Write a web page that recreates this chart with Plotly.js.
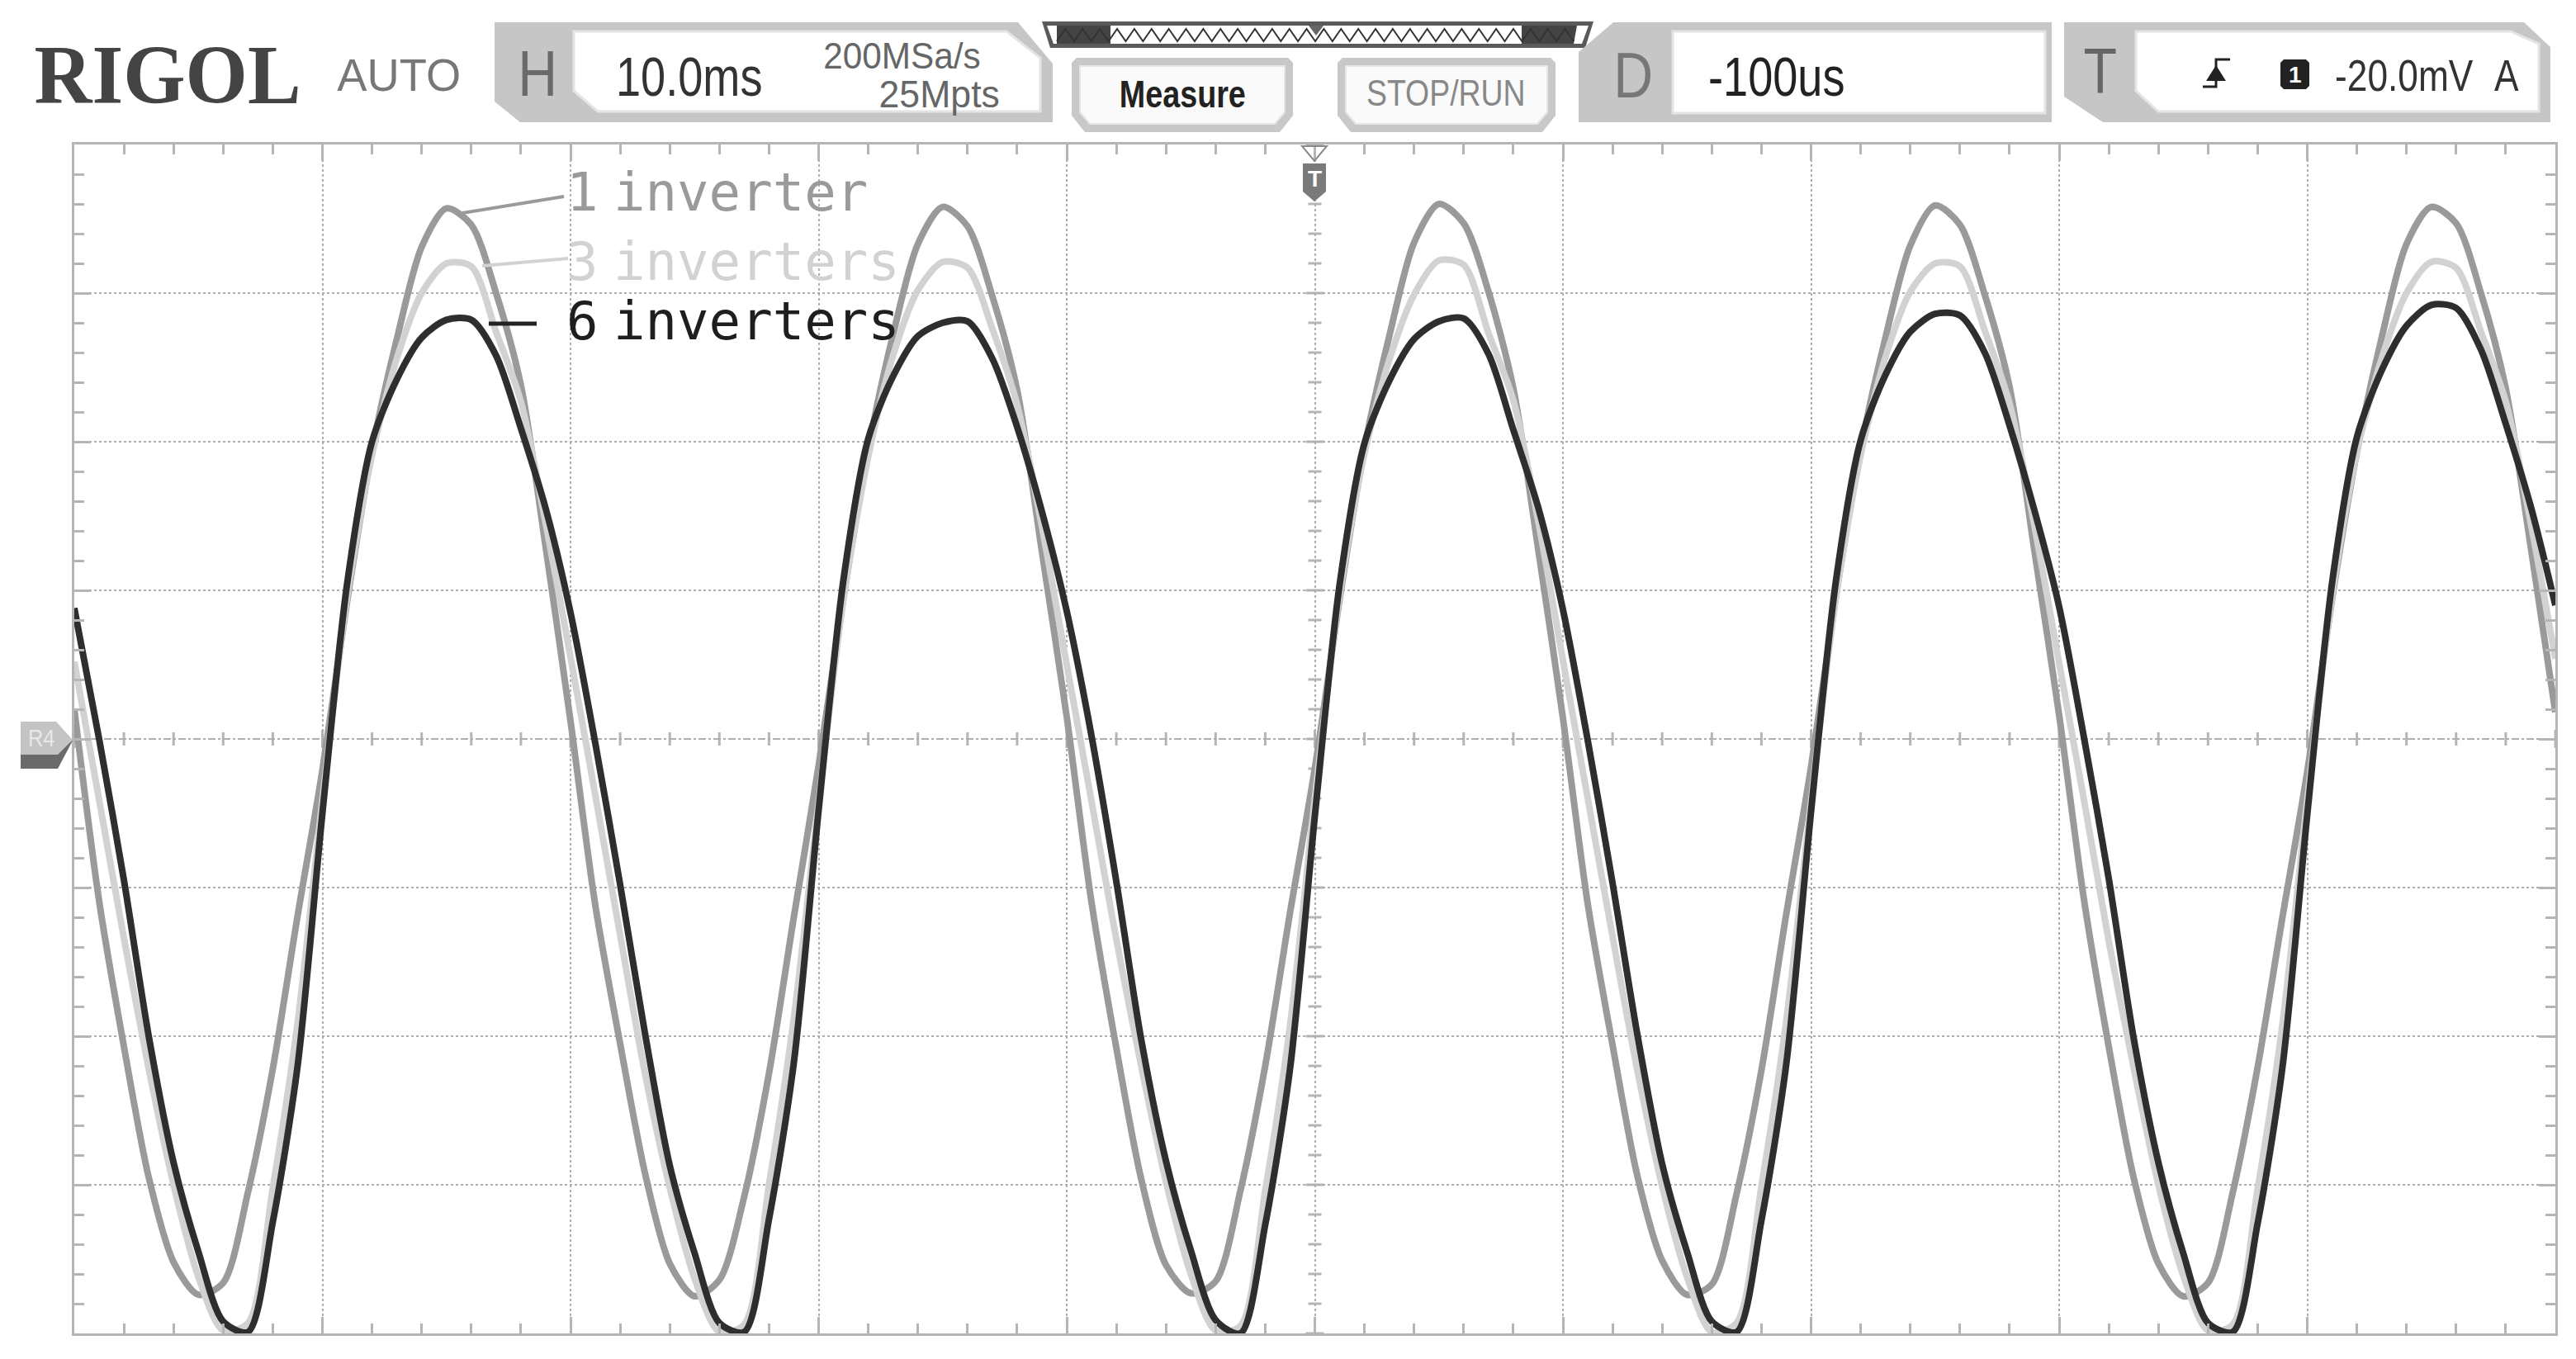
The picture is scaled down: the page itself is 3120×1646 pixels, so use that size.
<!DOCTYPE html>
<html><head><meta charset="utf-8">
<script src="https://cdn.plot.ly/plotly-3.0.1.min.js"></script>
<style>html,body{margin:0;padding:0;background:#fff;}#chart{width:3120px;height:1646px;}</style>
</head><body><div id="chart"></div>
<script>
// ---- data (time in ms, amplitude in screen divisions) ----
const timeMs = [0,1,2,3,4,5,6,7,8,9,10,11,12,13,14,15,16,17,18,19,
  20,21,22,23,24,25,26,27,28,29,30,31,32,33,34,35,36,37,38,39,
  40,41,42,43,44,45,46,47,48,49,50,51,52,53,54,55,56,57,58,59,
  60,61,62,63,64,65,66,67,68,69,70,71,72,73,74,75,76,77,78,79,
  80,81,82,83,84,85,86,87,88,89,90,91,92,93,94,95,96,97,98,99,100];
const oneInverter = [
  0.20,-1.09,-2.07,-2.95,-3.52,-3.74,-3.66,-3.05,-2.22,-1.19,-0.21,0.93,1.94,2.69,3.31,3.57,3.46,3.00,2.38,1.29,
  0.12,-1.12,-2.05,-2.92,-3.53,-3.75,-3.64,-3.08,-2.25,-1.20,-0.18,0.95,1.95,2.72,3.33,3.58,3.45,2.98,2.35,1.26,
  0.15,-1.10,-2.08,-2.96,-3.54,-3.73,-3.65,-3.04,-2.20,-1.17,-0.20,0.94,1.96,2.71,3.34,3.60,3.47,3.01,2.36,1.28,
  0.14,-1.11,-2.06,-2.94,-3.51,-3.74,-3.67,-3.06,-2.23,-1.18,-0.19,0.96,1.95,2.70,3.32,3.59,3.46,2.99,2.37,1.27,
  0.16,-1.08,-2.07,-2.95,-3.53,-3.75,-3.66,-3.05,-2.21,-1.20,-0.22,0.94,1.93,2.70,3.33,3.58,3.47,3.00,2.36,1.30,
  0.18];
const threeInverters = [
  0.52,-0.41,-1.34,-2.22,-3.00,-3.62,-3.98,-3.93,-3.02,-1.91,-0.41,0.96,1.91,2.56,3.00,3.20,3.18,2.74,2.27,1.45,
  0.55,-0.38,-1.32,-2.25,-3.02,-3.63,-3.99,-3.94,-3.00,-1.88,-0.43,0.94,1.90,2.58,3.02,3.21,3.17,2.76,2.25,1.43,
  0.50,-0.42,-1.35,-2.20,-2.98,-3.60,-3.98,-3.95,-3.04,-1.93,-0.40,0.97,1.92,2.55,2.99,3.22,3.19,2.73,2.28,1.47,
  0.53,-0.40,-1.33,-2.23,-3.01,-3.62,-3.99,-3.93,-3.01,-1.90,-0.42,0.95,1.91,2.57,3.01,3.20,3.18,2.75,2.26,1.44,
  0.51,-0.41,-1.36,-2.21,-3.00,-3.61,-3.98,-3.94,-3.03,-1.92,-0.41,0.96,1.93,2.56,3.00,3.21,3.17,2.74,2.27,1.46,
  0.54];
const sixInverters = [
  0.88,0.00,-0.95,-2.00,-2.85,-3.45,-3.92,-3.99,-3.25,-2.20,-0.50,1.05,2.00,2.42,2.70,2.82,2.82,2.58,2.09,1.55,
  0.85,-0.03,-0.98,-1.98,-2.87,-3.46,-3.93,-3.99,-3.23,-2.18,-0.48,1.07,2.02,2.44,2.71,2.80,2.81,2.56,2.10,1.53,
  0.86,0.02,-0.96,-2.02,-2.84,-3.44,-3.91,-4.00,-3.27,-2.22,-0.52,1.04,1.99,2.41,2.69,2.81,2.83,2.59,2.08,1.56,
  0.87,-0.01,-0.97,-1.99,-2.86,-3.45,-3.92,-3.99,-3.24,-2.19,-0.49,1.06,2.01,2.45,2.74,2.86,2.85,2.60,2.11,1.54,
  0.89,0.01,-0.94,-2.01,-2.85,-3.46,-3.93,-3.99,-3.26,-2.21,-0.51,1.05,2.03,2.48,2.78,2.92,2.90,2.62,2.12,1.57,
  0.90];
const seriesDigits = ['1','3','6'];
const seriesWords = ['inverter','inverters','inverters'];
const seriesColors = ['#9a9a9a','#d2d2d2','#2e2e2e'];
const headerTexts = {logo:'RIGOL', mode:'AUTO', h:'H', timebase:'10.0ms', rate:'200MSa/s', depth:'25Mpts',
  measure:'Measure', stoprun:'STOP/RUN', d:'D', delay:'-100us', t:'T', chan:'1', level:'-20.0mV', sweep:'A', ref:'R4'};

// ---- geometry helpers (page pixels -> paper coords) ----
const L=90, R=3095, T=175, B=1615, W=R-L, H=B-T;
const px = x => (x-L)/W, py = y => (B-y)/H;
const poly = pts => 'M' + pts.map(p => px(p[0]).toFixed(5)+','+py(p[1]).toFixed(5)).join(' L') + ' Z';
const polyOpen = pts => 'M' + pts.map(p => px(p[0]).toFixed(5)+','+py(p[1]).toFixed(5)).join(' L');
const shp = (path, fill, line, lw) => ({type:'path', xref:'paper', yref:'paper', path:path,
  fillcolor: fill || 'rgba(0,0,0,0)', line:{color: line || 'rgba(0,0,0,0)', width: lw || 0}, layer:'above'});
const SANS = '"Liberation Sans", Arial, sans-serif';
const narrowList = [];   // [annotation index, xanchor, scale]
const annotations = [];
function ann(text, x, y, size, color, opts) {
  opts = opts || {};
  const a = {text:text, x:px(x), y:py(y), xref:'paper', yref:'paper', showarrow:false,
    xanchor:opts.xanchor||'center', yanchor:'middle',
    font:{size:size, color:color, family:opts.family||SANS, weight:opts.weight||'normal'}};
  if (opts.narrow) narrowList.push([annotations.length, a.xanchor, opts.narrow]);
  annotations.push(a);
}

const traces = [oneInverter, threeInverters, sixInverters].map((v,i) => ({
  x: timeMs, y: v, type:'scatter', mode:'lines', name: seriesDigits[i]+' '+seriesWords[i],
  line:{color: seriesColors[i], width:8, shape:'spline', smoothing:0.8}, hoverinfo:'skip'
}));

const shapes = [];
// center cross ticks
for (let k=0; k<=40; k++) {
  const yv = -4 + k*0.2;
  const big = (k%5===0);
  shapes.push({type:'line', xref:'x', yref:'y', xsizemode:'pixel', xanchor:50, x0: big?-11:-8, x1: big?11:8,
    y0:yv, y1:yv, line:{color:'#b5b5b5', width:3}, layer:'below'});
}
for (let k=0; k<=50; k++) {
  const xv = k*2;
  const big = (k%5===0);
  shapes.push({type:'line', xref:'x', yref:'y', ysizemode:'pixel', yanchor:0, y0: big?-11:-8, y1: big?11:8,
    x0:xv, x1:xv, line:{color:'#b5b5b5', width:3}, layer:'below'});
}
shapes.push({type:'line', xref:'x', yref:'y', x0:0, x1:100, y0:0, y1:0, line:{color:'#b0b0b0', width:2, dash:'dash'}, layer:'below'});

// header: H panel
shapes.push(shp(poly([[599,27],[1233,27],[1275,77],[1275,148],[630,148],[599,123]]), '#c6c6c6'));
shapes.push(shp(poly([[695,38],[1219,38],[1260,70],[1260,135],[724,135],[695,110]]), '#ffffff', '#e4e4e4', 3));
// memory bar
shapes.push(shp(poly([[1262,26],[1930,26],[1920,58],[1272,58]]), '#5a5a5a'));
shapes.push(shp(poly([[1268,31],[1924,31],[1916,53],[1276,53]]), '#ffffff'));
shapes.push(shp(poly([[1280,31],[1345,31],[1345,53],[1280,53]]), '#444444'));
shapes.push(shp(poly([[1843,31],[1910,31],[1906,53],[1843,53]]), '#444444'));
{
  const zz = []; const n = 30; const x0 = 1280, x1 = 1906;
  for (let i=0; i<=2*n; i++) zz.push([x0 + (x1-x0)*i/(2*n), (i%2===0) ? 50 : 35]);
  shapes.push(shp(polyOpen(zz), null, '#333333', 2));
}
shapes.push(shp(poly([[1585,31],[1603,31],[1594,43]]), '#666666'));
// buttons
[[1298,1566],[1620,1884]].forEach(b => {
  const a=b[0], c=b[1];
  shapes.push(shp(poly([[a,76],[a+6,70],[c-6,70],[c,76],[c,140],[c-16,160],[a+16,160],[a,140]]), '#c8c8c8'));
  shapes.push(shp(poly([[a+10,80],[c-10,80],[c-10,136],[c-22,150],[a+22,150],[a+10,136]]), '#fafafa', '#e6e6e6', 2));
});
// D panel
shapes.push(shp(poly([[1954,27],[2485,27],[2485,148],[1912,148],[1912,63]]), '#c6c6c6'));
shapes.push(shp(poly([[2026,38],[2477,38],[2477,137],[2026,137]]), '#ffffff', '#e4e4e4', 3));
// T panel
shapes.push(shp(poly([[2500,27],[3057,27],[3089,57],[3089,148],[2547,148],[2500,117]]), '#c6c6c6'));
shapes.push(shp(poly([[2587,38],[3041,38],[3075,53],[3075,135],[2614,135],[2587,110]]), '#ffffff', '#e4e4e4', 3));
// trigger edge icon
shapes.push(shp(polyOpen([[2668,105],[2684,105],[2684,72],[2701,72]]), null, '#222222', 3));
shapes.push(shp(poly([[2672,98],[2696,98],[2684,79]]), '#222222'));
// channel badge
shapes.push(shp(poly([[2766,72],[2793,72],[2797,76],[2797,104],[2793,108],[2766,108],[2762,104],[2762,76]]), '#222222'));
// trigger position marker at top
shapes.push(shp(poly([[1577,177],[1607,177],[1592,195]]), null, '#8a8a8a', 2));
shapes.push(shp(poly([[1578,198],[1606,198],[1606,232],[1592,244],[1578,232]]), '#7a7a7a'));
// R4 reference marker
shapes.push(shp(poly([[25,905],[70,905],[88,897],[70,931],[25,931]]), '#6a6a6a'));
shapes.push(shp(poly([[25,874],[68,874],[88,896],[70,914],[25,914]]), '#c4c4c4'));
// legend pointer lines
shapes.push(shp(polyOpen([[560,258],[683,238]]), null, seriesColors[0], 4));
shapes.push(shp(polyOpen([[584,322],[688,313]]), null, seriesColors[1], 4));
shapes.push(shp(polyOpen([[592,392],[650,392]]), null, '#222222', 5));

const MONO = '"DejaVu Sans Mono", monospace';
ann(headerTexts.logo, 203, 90, 102, '#444444', {family:'"Liberation Serif", serif', weight:'bold', narrow:0.95});
ann(headerTexts.mode, 483, 90, 56, '#777777', {narrow:0.97});
ann(headerTexts.h, 651, 89, 78, '#6a6a6a', {narrow:0.85});
ann(headerTexts.timebase, 744, 93, 66, '#333333', {xanchor:'left', narrow:0.82});
ann(headerTexts.rate, 1190, 68, 45, '#666666', {xanchor:'right', narrow:0.94});
ann(headerTexts.depth, 1213, 114, 46, '#666666', {xanchor:'right', narrow:0.97});
ann(headerTexts.measure, 1432, 114, 46, '#222222', {weight:'bold', narrow:0.82});
ann(headerTexts.stoprun, 1751, 112, 44, '#888888', {narrow:0.85});
ann(headerTexts.d, 1978, 91, 78, '#777777', {narrow:0.85});
ann(headerTexts.delay, 2067, 93, 66, '#222222', {xanchor:'left', narrow:0.82});
ann(headerTexts.t, 2544, 86, 78, '#666666', {narrow:0.85});
ann(headerTexts.chan, 2780, 91, 28, '#ffffff', {weight:'bold'});
ann(headerTexts.level, 2826, 91, 54, '#333333', {xanchor:'left', narrow:0.82});
ann(headerTexts.sweep, 3019, 91, 54, '#333333', {xanchor:'left', narrow:0.82});
ann('T', 1592, 216, 28, '#ffffff', {weight:'bold'});
ann(headerTexts.ref, 50, 893, 30, '#e8e8e8', {narrow:0.85});
for (let i=0; i<3; i++) {
  const yc = [233, 317, 389][i];
  const col = i===2 ? '#1e1e1e' : seriesColors[i];
  ann(seriesDigits[i], 684, yc, 64, col, {family:MONO, xanchor:'left'});
  ann(seriesWords[i], 741, yc, 64, col, {family:MONO, xanchor:'left'});
}

const axisCommon = {showticklabels:false, zeroline:false, showline:true, mirror:'ticks', linecolor:'#b5b5b5', linewidth:3,
  ticks:'inside', ticklen:20, tickwidth:3, tickcolor:'#b5b5b5', showgrid:true, gridcolor:'#adadad', gridwidth:2, griddash:'dot', fixedrange:true};
const layout = {
  width:3120, height:1646, margin:{l:L, r:3120-R, t:T, b:1646-B, pad:0},
  paper_bgcolor:'#ffffff', plot_bgcolor:'#ffffff', showlegend:false,
  xaxis: Object.assign({}, axisCommon, {range:[0,100], dtick:10, tick0:0,
    minor:{dtick:2, ticks:'inside', ticklen:12, tickwidth:3, tickcolor:'#b5b5b5', showgrid:false}}),
  yaxis: Object.assign({}, axisCommon, {range:[-4,4], dtick:1, tick0:0,
    minor:{dtick:0.2, ticks:'inside', ticklen:12, tickwidth:3, tickcolor:'#b5b5b5', showgrid:false}}),
  shapes: shapes, annotations: annotations
};
function condense(gd) {
  narrowList.forEach(([idx, anchor, s]) => {
    const t = gd.querySelector('.annotation[data-index="' + idx + '"] text');
    if (!t) return;
    const bb = t.getBBox();
    const ox = anchor === 'left' ? bb.x : (anchor === 'right' ? bb.x + bb.width : bb.x + bb.width/2);
    t.setAttribute('transform', 'translate(' + ox + ',0) scale(' + s + ',1) translate(' + (-ox) + ',0)');
  });
}
Plotly.newPlot('chart', traces, layout, {staticPlot:true, displayModeBar:false}).then(condense);
</script></body></html>
